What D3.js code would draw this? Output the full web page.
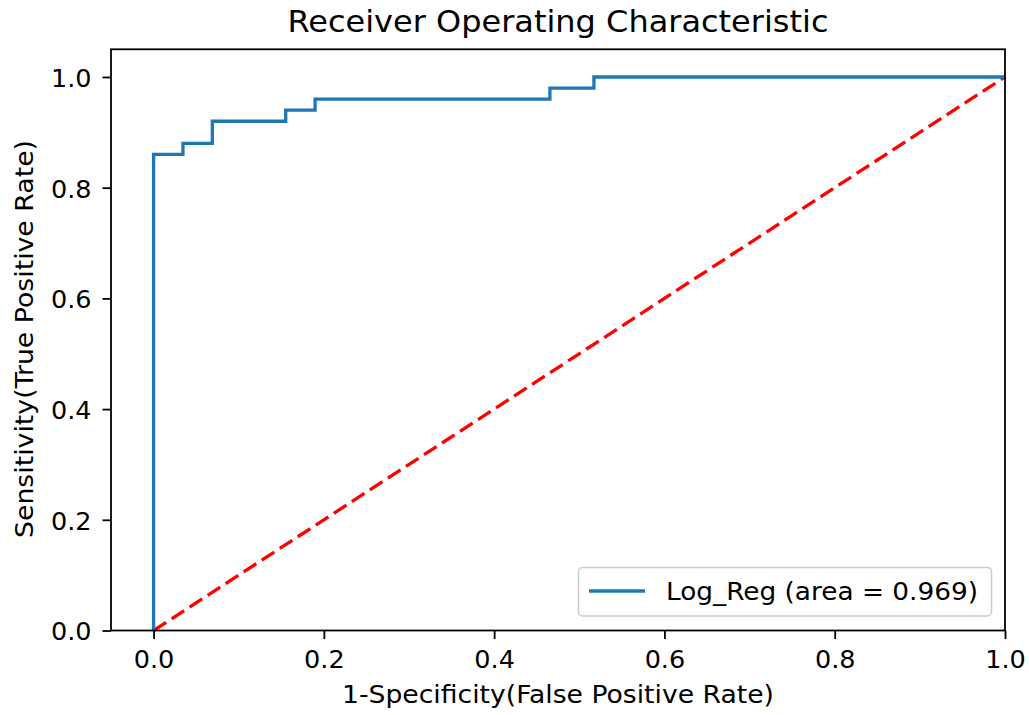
<!DOCTYPE html>
<html>
<head>
<meta charset="utf-8">
<script src="https://cdn.jsdelivr.net/npm/d3@7"></script>
<style>
  html, body { margin: 0; padding: 0; background: #fff; }
  svg { display: block; font-family: "DejaVu Sans", sans-serif; }
</style>
</head>
<body>
<svg id="chart" width="1029" height="715"></svg>
<script>
// ROC curve points (false positive rate, true positive rate)
const fpr = [0.0, 0.0, 0.0345, 0.0345, 0.069, 0.069, 0.1552, 0.1552, 0.1897, 0.1897, 0.4655, 0.4655, 0.5172, 0.5172, 1.0];
const tpr = [0.0, 0.86, 0.86, 0.88, 0.88, 0.92, 0.92, 0.94, 0.94, 0.96, 0.96, 0.98, 0.98, 1.0, 1.0];
const chanceLine = [0, 1];
const xTicks = [0.0, 0.2, 0.4, 0.6, 0.8, 1.0];
const yTicks = [0.0, 0.2, 0.4, 0.6, 0.8, 1.0];
const aucLabel = "Log_Reg (area = 0.969)";
const titleText = "Receiver Operating Characteristic";
const xLabelText = "1-Specificity(False Positive Rate)";
const yLabelText = "Sensitivity(True Positive Rate)";

const svg = d3.select("#chart");
const plot = { left: 111, top: 49.3, right: 1005, bottom: 630.5 };

const x = d3.scaleLinear().domain([-0.05, 1.0]).range([plot.left, plot.right]);
const y = d3.scaleLinear().domain([0, 1.05]).range([plot.bottom, plot.top]);

const fontSize = 25.5;

// diagonal reference line
svg.append("line")
  .attr("x1", x(chanceLine[0])).attr("y1", y(chanceLine[0]))
  .attr("x2", x(chanceLine[1])).attr("y2", y(chanceLine[1]))
  .attr("stroke", "#ff0000")
  .attr("stroke-width", 3.3)
  .attr("stroke-dasharray", "15,6.5");

// ROC curve
const rocPoints = fpr.map((f, i) => [f, tpr[i]]);
svg.append("path")
  .datum(rocPoints)
  .attr("fill", "none")
  .attr("stroke", "#1f77b4")
  .attr("stroke-width", 3.3)
  .attr("stroke-linejoin", "miter")
  .attr("d", d3.line().x(d => x(d[0])).y(d => y(d[1])));

// axes
const xAxis = d3.axisBottom(x).tickValues(xTicks).tickFormat(d3.format(".1f")).tickSizeOuter(0).tickSize(8.5);
const yAxis = d3.axisLeft(y).tickValues(yTicks).tickFormat(d3.format(".1f")).tickSizeOuter(0).tickSize(8.5);

const gx = svg.append("g").attr("transform", `translate(0,${plot.bottom})`).call(xAxis);
const gy = svg.append("g").attr("transform", `translate(${plot.left},0)`).call(yAxis);
[gx, gy].forEach(g => {
  g.select(".domain").remove();
  g.selectAll(".tick line").attr("stroke", "#000").attr("stroke-width", 1.8);
  g.selectAll(".tick text").attr("fill", "#000").style("font-size", fontSize + "px")
    .style("font-family", "DejaVu Sans");
});
gx.selectAll(".tick text").attr("dy", null).attr("y", 37.5);
gy.selectAll(".tick text").attr("dy", "0.37em").attr("x", -19.5);

// frame
svg.append("rect")
  .attr("x", plot.left).attr("y", plot.top)
  .attr("width", plot.right - plot.left).attr("height", plot.bottom - plot.top)
  .attr("fill", "none").attr("stroke", "#000").attr("stroke-width", 1.8);

// title and axis labels
svg.append("text")
  .attr("x", (plot.left + plot.right) / 2).attr("y", 32)
  .attr("text-anchor", "middle")
  .attr("textLength", 541).attr("lengthAdjust", "spacingAndGlyphs")
  .style("font-size", "29.5px")
  .text(titleText);

svg.append("text")
  .attr("x", (plot.left + plot.right) / 2).attr("y", 703)
  .attr("text-anchor", "middle")
  .attr("textLength", 432).attr("lengthAdjust", "spacingAndGlyphs")
  .style("font-size", fontSize + "px")
  .text(xLabelText);

svg.append("text")
  .attr("transform", `translate(33,339) rotate(-90)`)
  .attr("text-anchor", "middle")
  .attr("textLength", 398).attr("lengthAdjust", "spacingAndGlyphs")
  .style("font-size", fontSize + "px")
  .text(yLabelText);

// legend
const legend = svg.append("g");
legend.append("rect")
  .attr("x", 578.5).attr("y", 567.5).attr("width", 413).attr("height", 48.5)
  .attr("rx", 4).attr("ry", 4)
  .attr("fill", "#fff").attr("fill-opacity", 0.8)
  .attr("stroke", "#cccccc").attr("stroke-width", 1.5);
legend.append("line")
  .attr("x1", 589).attr("x2", 645).attr("y1", 591).attr("y2", 591)
  .attr("stroke", "#1f77b4").attr("stroke-width", 3.3);
legend.append("text")
  .attr("x", 666).attr("y", 600)
  .attr("textLength", 312).attr("lengthAdjust", "spacingAndGlyphs")
  .style("font-size", fontSize + "px")
  .text(aucLabel);
</script>
</body>
</html>
